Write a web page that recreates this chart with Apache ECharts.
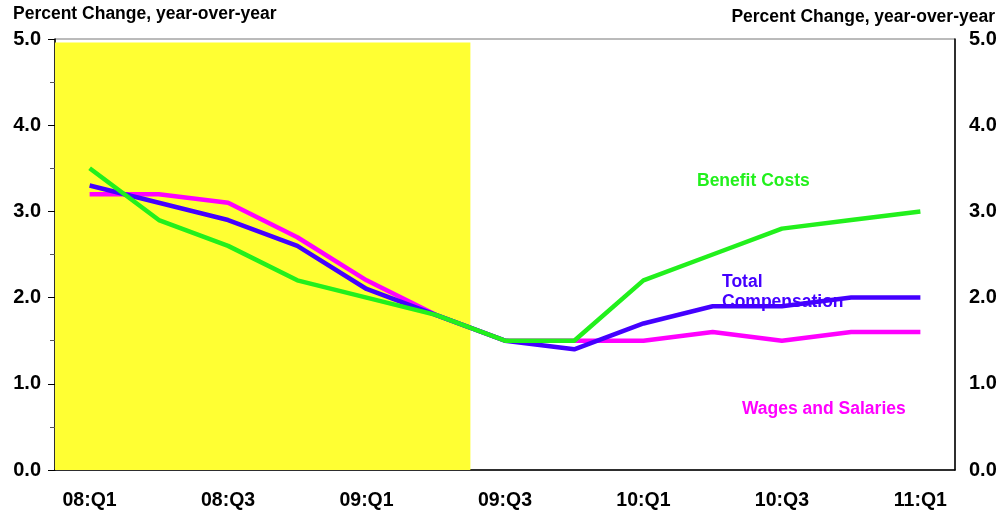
<!DOCTYPE html>
<html>
<head>
<meta charset="utf-8">
<script src="https://cdn.jsdelivr.net/npm/echarts@6/dist/echarts.min.js"></script>
<style>html,body{margin:0;padding:0;background:#fff}#c{width:1003px;height:515px}</style>
</head>
<body>
<div id="c"></div>
<script>
var categories = ['08:Q1','08:Q2','08:Q3','08:Q4','09:Q1','09:Q2','09:Q3','09:Q4','10:Q1','10:Q2','10:Q3','10:Q4','11:Q1'];
var benefitCosts = [3.5, 2.9, 2.6, 2.2, 2.0, 1.8, 1.5, 1.5, 2.2, 2.5, 2.8, 2.9, 3.0];
var totalCompensation = [3.3, 3.1, 2.9, 2.6, 2.1, 1.8, 1.5, 1.4, 1.7, 1.9, 1.9, 2.0, 2.0];
var wagesSalaries = [3.2, 3.2, 3.1, 2.7, 2.2, 1.8, 1.5, 1.5, 1.5, 1.6, 1.5, 1.6, 1.6];
var recession = ['08:Q1', '09:Q2'];
var recessionTop = 4.96;
var yTicks = [0, 1, 2, 3, 4, 5];

var FONT = '"Liberation Sans", Arial, sans-serif';
var chart = echarts.init(document.getElementById('c'));
function yAxisCfg(pos) {
  return {
    type: 'value', position: pos, min: yTicks[0], max: yTicks[yTicks.length-1], interval: 1,
    axisLine: { show: true, onZero: false, lineStyle: { color: '#000', width: 1.5 } },
    axisTick: { show: pos === 'left', length: 7, inside: false, lineStyle: { color: '#000' } },
    minorTick: { show: pos === 'left', splitNumber: 2, length: 5, lineStyle: { color: '#555' } },
    splitLine: { show: false },
    axisLabel: { margin: 14, color: '#000', fontSize: 20, fontWeight: 'bold', fontFamily: FONT,
      formatter: function (v) { return v.toFixed(1); } }
  };
}
var rs = categories.indexOf(recession[0]) - 0.5;
var re = categories.indexOf(recession[1]) + 0.5;
chart.setOption({
  animation: false,
  backgroundColor: '#fff',
  grid: { left: 55, right: 48, top: 39, bottom: 45, show: true, borderColor: '#777', borderWidth: 1, backgroundColor: 'transparent' },
  xAxis: [{
    type: 'category', data: categories, boundaryGap: true,
    axisLine: { onZero: false, lineStyle: { color: '#000', width: 1.5 } },
    axisTick: { alignWithLabel: true, interval: 0, length: 9, lineStyle: { color: '#000' } },
    axisLabel: { interval: 1, margin: 21, color: '#000', fontSize: 19.5, fontWeight: 'bold', fontFamily: FONT }
  }, {
    type: 'value', min: -0.5, max: categories.length - 0.5, show: false
  }],
  yAxis: [yAxisCfg('left'), yAxisCfg('right')],
  series: [
    { type: 'line', xAxisIndex: 1, data: [], silent: true, z: 1,
      markArea: { silent: true, itemStyle: { color: '#FFFF33', opacity: 1 },
        data: [[{ xAxis: rs, yAxis: 0 }, { xAxis: re, yAxis: recessionTop }]] } },
    { type: 'line', name: 'Wages and Salaries', data: wagesSalaries, symbol: 'none', lineStyle: { color: '#FF00FF', width: 4.5 }, z: 3 },
    { type: 'line', name: 'Total Compensation', data: totalCompensation, symbol: 'none', lineStyle: { color: '#4400FF', width: 4.5 }, z: 4 },
    { type: 'line', name: 'Benefit Costs', data: benefitCosts, symbol: 'none', lineStyle: { color: '#22F01C', width: 4.5 }, z: 5 }
  ],
  graphic: [
    { type: 'text', left: 13, top: 5, style: { text: 'Percent Change, year-over-year', fill: '#000', font: 'bold 17.5px ' + FONT } },
    { type: 'text', right: 8, top: 8, style: { text: 'Percent Change, year-over-year', fill: '#000', font: 'bold 17.5px ' + FONT } },
    { type: 'text', left: 697, top: 172, style: { text: 'Benefit Costs', fill: '#22F01C', font: 'bold 17.5px ' + FONT } },
    { type: 'text', left: 722, top: 272, style: { text: 'Total\nCompensation', fill: '#4400FF', font: 'bold 17.5px ' + FONT, lineHeight: 20 } },
    { type: 'text', left: 742, top: 400, style: { text: 'Wages and Salaries', fill: '#FF00FF', font: 'bold 17.5px ' + FONT } }
  ]
});
</script>
</body>
</html>
